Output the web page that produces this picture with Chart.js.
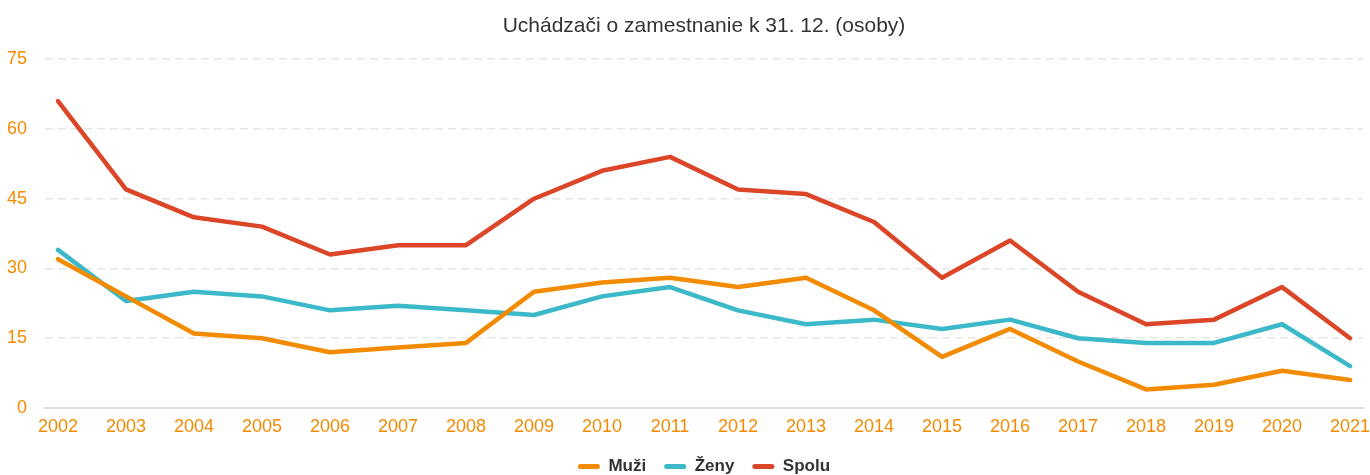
<!DOCTYPE html>
<html>
<head>
<meta charset="utf-8">
<script src="https://cdn.jsdelivr.net/npm/chart.js@4"></script>
<style>
html,body{margin:0;padding:0;background:#fff;}
#wrap{width:1370px;height:475px;position:relative;}
</style>
</head>
<body>
<div id="wrap"><canvas id="c"></canvas></div>
<script>
const years = [2002,2003,2004,2005,2006,2007,2008,2009,2010,2011,2012,2013,2014,2015,2016,2017,2018,2019,2020,2021];
const muzi  = [32,24,16,15,12,13,14,25,27,28,26,28,21,11,17,10,4,5,8,6];
const zeny  = [34,23,25,24,21,22,21,20,24,26,21,18,19,17,19,15,14,14,18,9];
const spolu = [66,47,41,39,33,35,35,45,51,54,47,46,40,28,36,25,18,19,26,15];
const yTicks = [0,15,30,45,60,75];
const titleText = 'Uchádzači o zamestnanie k 31. 12. (osoby)';
const seriesNames = ['Muži','Ženy','Spolu'];
const colors = ['#f28b00','#3cb9c8','#dc4628'];

const pts = arr => arr.map((v,i)=>({x:years[i], y:v}));
const FONT = "'Liberation Sans', Arial, sans-serif";

new Chart(document.getElementById('c'), {
  type: 'line',
  data: {
    datasets: [muzi, zeny, spolu].map((d,i)=>({
      label: seriesNames[i],
      data: pts(d),
      borderColor: colors[i],
      backgroundColor: colors[i],
      borderWidth: 4.5,
      pointRadius: 0,
      pointHoverRadius: 0,
      tension: 0,
      borderCapStyle: 'round',
      borderJoinStyle: 'round'
    }))
  },
  options: {
    responsive: true,
    maintainAspectRatio: false,
    animation: false,
    layout: { padding: { left: 0, right: 7, top: 0, bottom: -10 } },
    plugins: {
      title: {
        display: true, text: titleText, color: '#333333', fullSize: false,
        font: { family: FONT, size: 21, weight: 'normal' },
        padding: { top: 14, bottom: 20 }
      },
      legend: {
        position: 'bottom',
        fullSize: false,
        labels: {
          color: '#333333',
          font: { family: FONT, size: 17, weight: 'bold' },
          boxWidth: 22, boxHeight: 5, padding: 18,
          generateLabels(chart){
            return chart.data.datasets.map((ds,i)=>({
              text: ds.label, fillStyle: ds.borderColor, strokeStyle: ds.borderColor,
              lineWidth: 0, hidden: false, datasetIndex: i, borderRadius: 2.5, fontColor:'#333333'
            }));
          }
        }
      },
      tooltip: { enabled: false }
    },
    scales: {
      x: {
        type: 'linear',
        min: 2001.809, max: 2021.19,
        afterBuildTicks(scale){ scale.ticks = years.map(v=>({value:v})); },
        afterFit(scale){ scale.height = 32; scale.paddingRight = 0; scale.paddingLeft = 0; },
        grid: { display: false, drawTicks: false },
        border: { display: true, color: '#e0e0e0', width: 2 },
        ticks: {
          color: '#f28b00', autoSkip: false, maxRotation: 0, padding: 8,
          font: { family: FONT, size: 18 },
          callback: v => String(v)
        }
      },
      y: {
        min: 0, max: 75,
        afterBuildTicks(scale){ scale.ticks = yTicks.map(v=>({value:v})); },
        afterFit(scale){ scale.width = 45; },
        grid: { color: '#e6e6e6', lineWidth: 1.5, drawTicks: false },
        border: { display: false, dash: [8,5] },
        ticks: {
          color: '#f28b00', padding: 18,
          font: { family: FONT, size: 18 }
        }
      }
    }
  }
});
</script>
</body>
</html>
